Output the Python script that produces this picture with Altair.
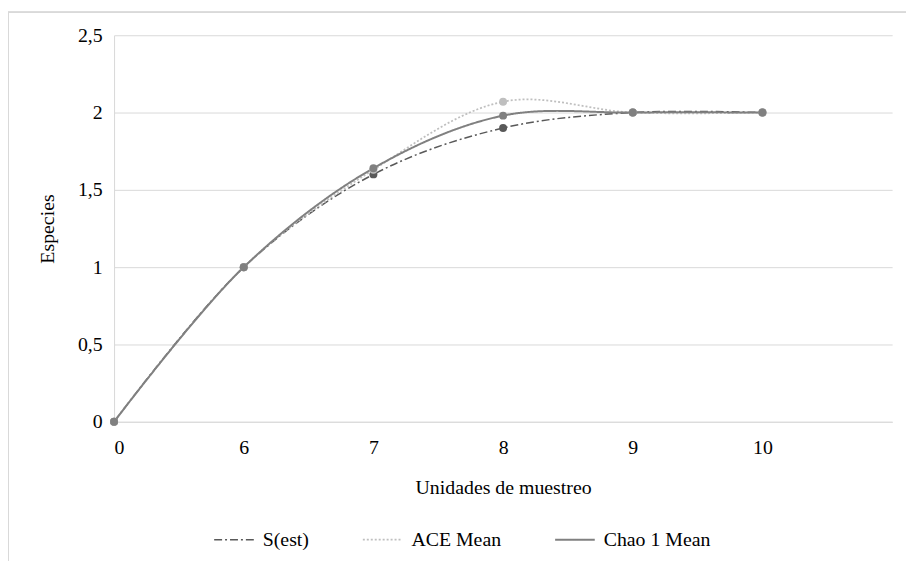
import altair as alt
import pandas as pd

x_labels = ["0", "6", "7", "8", "9", "10"]
s_est = [0, 1, 1.60, 1.90, 2, 2]
ace_mean = [0, 1, 1.63, 2.07, 2, 2]
chao1_mean = [0, 1, 1.64, 1.98, 2, 2]

series_names = ["S(est)", "ACE Mean", "Chao 1 Mean"]
series_vals = [s_est, ace_mean, chao1_mean]

rows = []
for name, vals in zip(series_names, series_vals):
    for i, (lab, v) in enumerate(zip(x_labels, vals)):
        rows.append({"idx": i, "label": lab, "serie": name, "value": v})
df = pd.DataFrame(rows)

label_expr = "[" + ",".join("'" + l + "'" for l in x_labels) + "][datum.value]"

FONT = "Liberation Serif"
FS = 20
colors = ["#595959", "#BFBFBF", "#808080"]

x = alt.X("idx:Q", title="Unidades de muestreo",
          scale=alt.Scale(domain=[0, 6], nice=False, zero=False),
          axis=alt.Axis(values=list(range(len(x_labels))), labelExpr=label_expr,
                        grid=False, ticks=False, domain=True, domainColor="#D9D9D9",
                        labelFontSize=FS, labelFont=FONT, labelColor="#000000",
                        labelPadding=16, titleFontSize=FS, titleFont=FONT,
                        titleFontWeight="normal", titleColor="#000000", titlePadding=20))
y = alt.Y("value:Q", title="Especies",
          scale=alt.Scale(domain=[0, 2.5], nice=False),
          axis=alt.Axis(values=[0, 0.5, 1, 1.5, 2, 2.5],
                        labelExpr="replace(toString(datum.value), '.', ',')",
                        grid=True, gridColor="#D9D9D9", ticks=False, domain=True,
                        domainColor="#D9D9D9", labelFontSize=FS, labelFont=FONT,
                        labelColor="#000000", labelPadding=12, titleFontSize=FS,
                        titleFont=FONT, titleFontWeight="normal", titleColor="#000000",
                        titlePadding=20))

color = alt.Color("serie:N", scale=alt.Scale(domain=series_names, range=colors),
                  legend=alt.Legend(title=None, orient="none", direction="horizontal",
                                    legendX=100, legendY=488, symbolType="stroke",
                                    symbolSize=1600, symbolStrokeWidth=2,
                                    labelFontSize=FS, labelFont=FONT, labelColor="#000000",
                                    columnPadding=50, labelOffset=8))
dash = alt.StrokeDash("serie:N", scale=alt.Scale(domain=series_names,
                                                 range=[[8, 3, 2, 3], [2, 2], [1, 0]]),
                      legend=None)
width_enc = alt.StrokeWidth("serie:N", scale=alt.Scale(domain=series_names, range=[1.5, 2, 2.75]),
                            legend=None)
order = alt.Order("idx:Q")

lines = alt.Chart(df).mark_line(interpolate="catmull-rom").encode(
    x=x, y=y, color=color, strokeDash=dash, strokeWidth=width_enc, order=order,
    detail="serie:N"
)
points = alt.Chart(df).mark_point(filled=True, size=64, opacity=1).encode(
    x="idx:Q", y="value:Q",
    color=alt.Color("serie:N", scale=alt.Scale(domain=series_names, range=colors), legend=None)
)

# outer chart frame (top and left edges, as in the reference)
frame_top = alt.Chart(df).mark_rule(color="#D9D9D9", strokeWidth=1).encode(
    x=alt.value(-107), x2=alt.value(800), y=alt.value(-23)
)
frame_left = alt.Chart(df).mark_rule(color="#D9D9D9", strokeWidth=1).encode(
    x=alt.value(-107), y=alt.value(-23), y2=alt.value(530)
)

chart = alt.layer(frame_top, frame_left, lines, points).properties(
    width=785, height=390,
    autosize=alt.AutoSizeParams(type="none"),
    padding={"left": 107, "top": 25, "right": 14, "bottom": 140},
    background="#FFFFFF"
).configure_view(stroke=None)

chart.save("out.html", embed_options={"renderer": "svg", "actions": False})
